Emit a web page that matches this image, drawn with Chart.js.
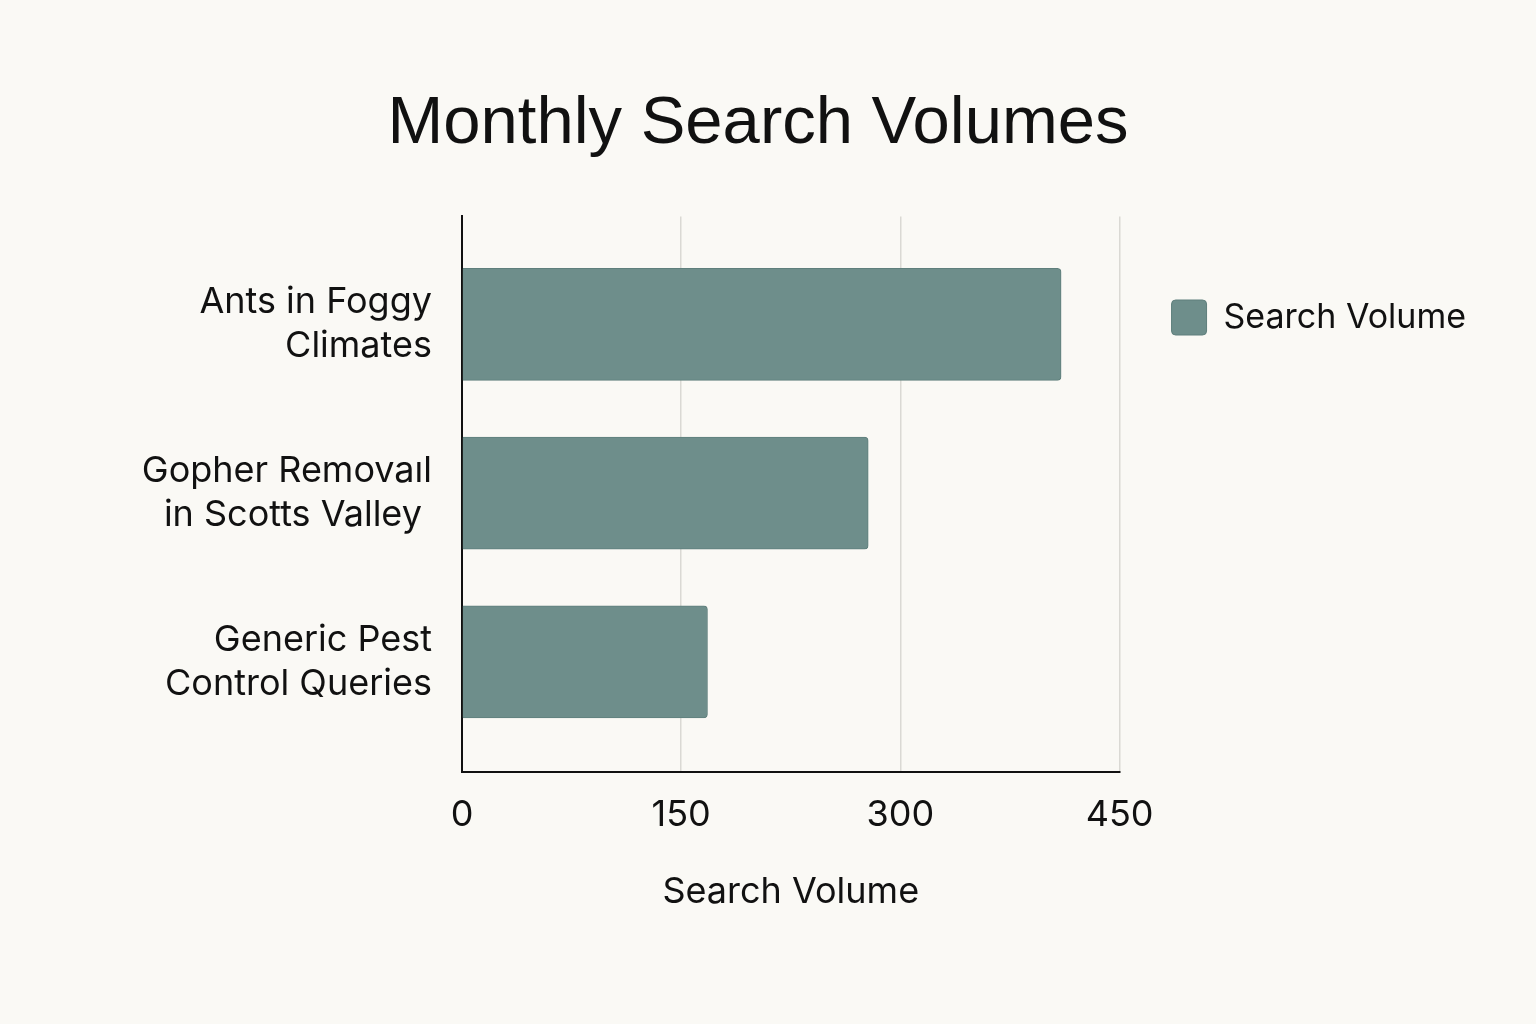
<!DOCTYPE html>
<html>
<head>
<meta charset="utf-8">
<script src="https://cdn.jsdelivr.net/npm/chart.js@4/dist/chart.umd.min.js"></script>
<style>
  html, body { margin: 0; padding: 0; background: #faf9f5; }
  #wrap { width: 1536px; height: 1024px; }
</style>
</head>
<body>
<div id="wrap"><canvas id="chart" width="1536" height="1024"></canvas></div>
<script>
// Categories (one array of lines per label) and values
const categories = [
  ["Ants in Foggy", "Climates"],
  ["Gopher Removaıl", "in Scotts Valley "],
  ["Generic Pest", "Control Queries"],
]
const searchVolumes = [410, 278, 168]
const xTicks = [0, 150, 300, 450]

const seriesName = "Search Volume"
const chartTitle = "Monthly Search Volumes"
const xAxisTitle = "Search Volume"

const barColor = "#6e8e8b"
const textColor = "#111111"

const ctx = document.getElementById("chart").getContext("2d")

new Chart(ctx, {
  type: "bar",
  data: {
    datasets: [
      {
        label: seriesName,
        data: searchVolumes.map((v, i) => ({ x: v, y: i })),
        backgroundColor: barColor,
        borderColor: "#5f7f7c",
        borderWidth: 1,
        borderRadius: 4,
        barThickness: 112,
      },
    ],
  },
  options: {
    indexAxis: "y",
    responsive: false,
    animation: false,
    devicePixelRatio: 1,
    layout: {
      padding: { left: 40, right: 60, top: 0, bottom: 110 },
    },
    plugins: {
      title: {
        display: true,
        text: chartTitle,
        color: textColor,
        font: { family: "'Liberation Sans', Arial, sans-serif", size: 67, weight: "normal", lineHeight: 1.2 },
        padding: { top: 84, bottom: 52 },
      },
      legend: {
        display: true,
        position: "right",
        align: "start",
        // empty title only pushes the single legend item down next to the first bar
        title: { display: true, text: "", font: { size: 10, lineHeight: 1.2 }, padding: { top: 236, bottom: 0 } },
        labels: {
          color: textColor,
          font: { family: "Inter, sans-serif", size: 34 },
          boxWidth: 35,
          boxHeight: 35,
          padding: 52,
          useBorderRadius: true,
          borderRadius: 4,
        },
      },
      tooltip: { enabled: false },
    },
    scales: {
      x: {
        type: "linear",
        position: "bottom",
        min: xTicks[0],
        max: xTicks[xTicks.length - 1],
        afterBuildTicks: (scale) => {
          scale.ticks = xTicks.map((v) => ({ value: v }))
        },
        ticks: {
          color: textColor,
          font: { family: "Inter, sans-serif", size: 36 },
          padding: 22,
        },
        grid: {
          color: "#dad9d4",
          lineWidth: 1.5,
          drawTicks: false,
        },
        border: { display: true, color: textColor, width: 2 },
        title: {
          display: true,
          text: xAxisTitle,
          color: textColor,
          font: { family: "Inter, sans-serif", size: 36 },
          padding: { top: 12, bottom: 0 },
        },
      },
      y: {
        // linear index axis so the empty space above and below the bars matches the picture
        type: "linear",
        reverse: true,
        bounds: "data",
        offset: false,
        min: -0.64,
        max: 2.65,
        afterBuildTicks: (scale) => {
          scale.ticks = categories.map((c, i) => ({ value: i }))
        },
        afterFit: (scale) => {
          scale.width = 422
        },
        ticks: {
          color: textColor,
          font: { family: "Inter, sans-serif", size: 36, lineHeight: 1.22 },
          padding: 30,
          callback: (value) => categories[value] || "",
        },
        grid: { offset: false, drawOnChartArea: false, drawTicks: false },
        border: { display: true, color: textColor, width: 2 },
      },
    },
  },
})
</script>
</body>
</html>
